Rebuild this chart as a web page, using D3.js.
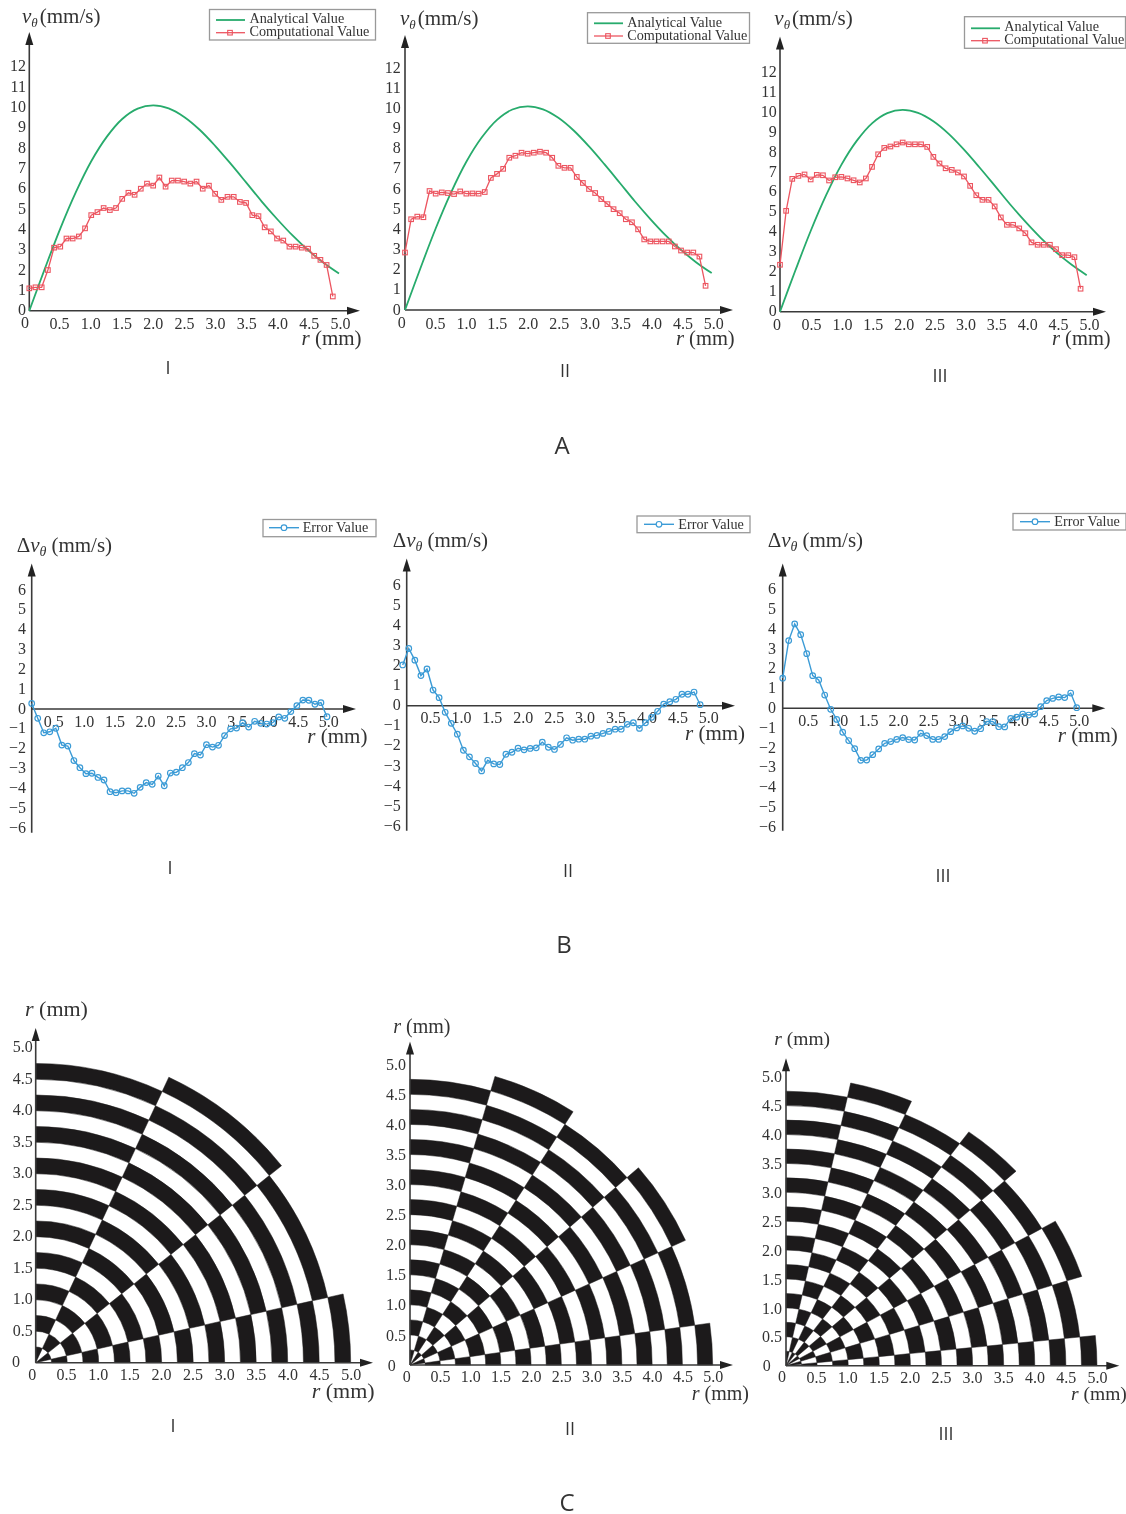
<!DOCTYPE html>
<html>
<head>
<meta charset="utf-8">
<script src="https://cdn.jsdelivr.net/npm/d3@7"></script>
<style>
  html, body { margin: 0; padding: 0; background: #fff; }
  svg { display: block; filter: blur(0.5px); }
  text { font-family: "Liberation Serif", serif; fill: #333; }
  .letter { font-family: "Open Sans", sans-serif; }
</style>
</head>
<body>
<div id="chart"></div>
<script>
// ---- data ----
var sampleR = [0,0.1,0.2,0.3,0.4,0.5,0.6,0.7,0.8,0.9,1,1.1,1.2,1.3,1.4,1.5,1.6,1.7,1.8,1.9,2,2.1,2.2,2.3,2.4,2.5,2.6,2.7,2.8,2.9,3,3.1,3.2,3.3,3.4,3.5,3.6,3.7,3.8,3.9,4,4.1,4.2,4.3,4.4,4.5,4.6,4.7,4.8,4.9];

var analyticR = [0,0.25,0.5,0.75,1,1.25,1.5,1.75,2,2.25,2.5,2.75,3,3.25,3.5,3.75,4,4.25,4.5,4.75,5];
var analyticV = [0,2.06,4.04,5.82,7.35,8.55,9.43,9.94,10.1,9.95,9.53,8.9,8.11,7.23,6.31,5.38,4.51,3.7,2.98,2.36,1.83];

var computedI = [1.1,1.15,1.15,2,3.1,3.15,3.55,3.55,3.65,4.05,4.7,4.85,5.05,4.95,5.05,5.5,5.8,5.7,6,6.25,6.15,6.55,6.1,6.4,6.4,6.35,6.25,6.35,6,6.15,5.75,5.45,5.6,5.6,5.35,5.3,4.7,4.65,4.1,3.9,3.55,3.45,3.15,3.15,3.1,3.05,2.7,2.5,2.25,0.7];
var computedII = [2.85,4.5,4.63,4.6,5.9,5.77,5.83,5.8,5.75,5.88,5.77,5.78,5.77,5.85,6.55,6.75,7,7.55,7.65,7.8,7.75,7.8,7.85,7.8,7.55,7.15,7.05,7.05,6.6,6.3,6,5.8,5.5,5.25,5,4.8,4.5,4.35,4,3.5,3.4,3.4,3.4,3.4,3.15,2.95,2.85,2.85,2.65,1.2];
var computedIII = [2.35,5.05,6.65,6.8,6.87,6.62,6.85,6.83,6.57,6.73,6.75,6.67,6.58,6.47,6.67,7.25,7.88,8.2,8.27,8.38,8.47,8.38,8.38,8.38,8.25,7.75,7.42,7.18,7.1,6.97,6.77,6.3,5.83,5.6,5.6,5.27,4.72,4.35,4.35,4.17,3.93,3.47,3.35,3.35,3.35,3.13,2.83,2.83,2.73,1.15];

var errorI = [0.28,-0.47,-1.2,-1.15,-0.97,-1.82,-1.87,-2.6,-2.96,-3.26,-3.24,-3.45,-3.58,-4.17,-4.22,-4.13,-4.13,-4.25,-3.95,-3.71,-3.8,-3.38,-3.87,-3.23,-3.19,-2.96,-2.7,-2.25,-2.32,-1.8,-1.92,-1.83,-1.34,-1,-0.96,-0.69,-0.91,-0.62,-0.72,-0.76,-0.69,-0.4,-0.47,-0.13,0.17,0.45,0.44,0.24,0.32,-0.39];
var errorII = [2.03,2.85,2.27,1.5,1.83,0.78,0.4,-0.33,-0.88,-1.42,-2.22,-2.55,-2.88,-3.25,-2.72,-2.9,-2.93,-2.42,-2.32,-2.12,-2.2,-2.13,-2.1,-1.82,-2.07,-2.18,-1.93,-1.6,-1.72,-1.67,-1.67,-1.52,-1.48,-1.38,-1.28,-1.17,-1.17,-0.93,-0.85,-1.13,-0.85,-0.58,-0.28,0.08,0.2,0.32,0.57,0.57,0.68,0.05];
var errorIII = [1.52,3.42,4.26,3.72,2.76,1.65,1.43,0.67,-0.05,-0.56,-1.21,-1.63,-2.04,-2.63,-2.61,-2.34,-2.05,-1.77,-1.68,-1.57,-1.48,-1.58,-1.6,-1.26,-1.38,-1.57,-1.57,-1.43,-1.18,-0.99,-0.89,-1.01,-1.16,-1.03,-0.67,-0.67,-0.93,-0.94,-0.51,-0.45,-0.29,-0.34,-0.29,0.08,0.39,0.5,0.57,0.54,0.77,0.03];

// checkerboard: ring edges in mm, sector edges in degrees from the x axis
var ringEdges = [0,0.25,0.5,0.75,1,1.25,1.5,1.75,2,2.25,2.5,2.75,3,3.25,3.5,3.75,4,4.25,4.5,4.75,5];
var sectorsI = [0,12.6,38.7,65,90];
var sectorsII = [0,8,24.5,41,57.4,73.7,90];
var sectorsIII = [0,6,18,30,42.3,54,66.2,78,90];

// tick labels
var rTicks = [0.5,1,1.5,2,2.5,3,3.5,4,4.5,5];
var speedTicks = [0,1,2,3,4,5,6,7,8,9,10,11,12];
var errorTicks = [-6,-5,-4,-3,-2,-1,0,1,2,3,4,5,6];

var legendAnalytical = "Analytical Value";
var legendComputational = "Computational Value";
var legendError = "Error Value";

var green = "#27ab6c", red = "#ec5560", blue = "#3b9bd6", axisColor = "#3a3a3a";

var w = 1126, h = 1514;
var svg = d3.select("#chart").append("svg").attr("width", w).attr("height", h);

// ---- helpers ----
function drawArrows(g, o) {
    // o.ax = y axis x, o.ay = x axis y
    g.append("path").attr("fill", "none").attr("stroke", axisColor).attr("stroke-width", 1.6)
        .attr("d", "M" + o.ax + "," + (o.bottom || o.ay) + "V" + (o.top + 6) + "M" + o.ax + "," + o.ay + "H" + (o.tip - 6));
    g.append("path").attr("fill", "#222")
        .attr("d", "M" + o.ax + "," + o.top + "l4,13h-8z");
    g.append("path").attr("fill", "#222")
        .attr("d", "M" + o.tip + "," + o.ay + "l-13,-4v8z");
}

function drawTicks(g, o, yScale, yValues, yFormat) {
    var labelX = d3.scaleLinear().domain([0.5, 5]).range([o.lab05, o.lab50]);
    var xAxis = d3.axisBottom(labelX).tickValues(rTicks).tickSize(0).tickPadding(0)
        .tickFormat(d3.format(".1f"));
    var xg = g.append("g").attr("transform", "translate(0," + (o.labY - 5.5) + ")").call(xAxis);
    var yAxis = d3.axisLeft(yScale).tickValues(yValues).tickSize(0).tickPadding(0).tickFormat(yFormat);
    var yg = g.append("g").attr("transform", "translate(" + o.labRight + "," + (o.labDy || 0) + ")").call(yAxis);
    [xg, yg].forEach(function(a) {
        a.select(".domain").remove();
        a.attr("font-family", null).attr("font-size", null);
        a.selectAll("text").style("font-size", "16px").attr("fill", null);
    });
    xg.selectAll("text").attr("dy", "0.72em").attr("y", 0);
}

function plainText(g, x, y, str, size, anchor) {
    return g.append("text").attr("x", x).attr("y", y).attr("text-anchor", anchor || "start")
        .style("font-size", size + "px").text(str);
}

function drawRLabel(g, x, y, size) {
    var t = g.append("text").attr("x", x).attr("y", y).style("font-size", size + "px");
    t.append("tspan").style("font-style", "italic").text("r");
    t.append("tspan").text(" (mm)");
}

function drawSpeedTitle(g, x, y, delta) {
    var t = g.append("text").attr("x", x).attr("y", y).style("font-size", "21px");
    if (delta) t.append("tspan").text("Δ");
    t.append("tspan").style("font-style", "italic").text("v");
    t.append("tspan").style("font-style", "italic").style("font-size", delta ? "14px" : "13px").attr("dy", 4).text("θ");
    t.append("tspan").attr("dy", -4).attr("dx", delta ? 5 : 2).text("(mm/s)");
}

function drawLegendBox(g, b) {
    g.append("rect").attr("x", b.x).attr("y", b.y).attr("width", b.w).attr("height", b.h)
        .attr("fill", "#fff").attr("stroke", "#999").attr("stroke-width", 1.3);
}

function square(g, cx, cy) {
    g.append("rect").attr("x", cx - 2.3).attr("y", cy - 2.3).attr("width", 4.6).attr("height", 4.6)
        .attr("fill", "none").attr("stroke", red).attr("stroke-width", 1.1);
}

// ---- A: analytical vs computational ----
var panelsA = [
    { data: computedI, ax: 29.3, x5: 339, ay: 310.7, y12: 66.7, top: 32, tip: 360,
      lab05: 59, lab50: 340, labY: 322.7, labRight: 26, lab0x: 25, titleX: 22, titleY: 23,
      rX: 301.5, rY: 345, rSize: 21, numeral: "I", numX: 168, numY: 374,
      box: { x: 209.5, y: 9.5, w: 166, h: 30.5 }, lineX: 216, lineY1: 20, textX: 249.5, textY1: 23, lineY2: 32.7, textY2: 36 },
    { data: computedII, ax: 405, x5: 711.7, ay: 310, y12: 68, top: 35, tip: 733,
      lab05: 435, lab50: 713.3, labY: 322.7, labRight: 400.7, lab0x: 401.7, titleX: 400, titleY: 25,
      rX: 676, rY: 345, rSize: 20.5, numeral: "II", numX: 565, numY: 376.5,
      box: { x: 587.5, y: 12.7, w: 162, h: 30.6 }, lineX: 594, lineY1: 23.3, textX: 627.3, textY1: 27, lineY2: 36, textY2: 39.5 },
    { data: computedIII, ax: 780, x5: 1086.7, ay: 311.7, y12: 72, top: 36.5, tip: 1106,
      lab05: 811, lab50: 1089, labY: 324, labRight: 776.7, lab0x: 777, titleX: 774.3, titleY: 25,
      rX: 1052, rY: 345, rSize: 20.5, numeral: "III", numX: 940, numY: 381.5,
      box: { x: 964.5, y: 16.7, w: 161, h: 31.6 }, lineX: 971, lineY1: 28.3, textX: 1004.3, textY1: 31, lineY2: 40.7, textY2: 43.5 }
];

panelsA.forEach(function(o) {
    var g = svg.append("g");
    var xScale = d3.scaleLinear().domain([0, 5]).range([o.ax, o.x5]);
    var yScale = d3.scaleLinear().domain([0, 12]).range([o.ay, o.y12]);

    drawArrows(g, o);
    o.labDy = -1;
    drawTicks(g, o, yScale, speedTicks, d3.format("d"));
    plainText(g, o.lab0x, o.labY + 5.5, "0", 16, "middle");
    drawSpeedTitle(g, o.titleX, o.titleY, false);
    drawRLabel(g, o.rX, o.rY, o.rSize);

    var analyticLine = d3.line()
        .x(function(d, i) { return xScale(analyticR[i]); })
        .y(function(d) { return yScale(d); })
        .curve(d3.curveCatmullRom);
    g.append("path").datum(analyticV).attr("fill", "none").attr("stroke", green)
        .attr("stroke-width", 1.8).attr("d", analyticLine);

    var computedLine = d3.line()
        .x(function(d, i) { return xScale(sampleR[i]); })
        .y(function(d) { return yScale(d); });
    g.append("path").datum(o.data).attr("fill", "none").attr("stroke", red)
        .attr("stroke-width", 1.3).attr("d", computedLine);

    g.selectAll("rect.pt").data(o.data).enter().append("rect").attr("class", "pt")
        .attr("x", function(d, i) { return xScale(sampleR[i]) - 2.3; })
        .attr("y", function(d) { return yScale(d) - 2.3; })
        .attr("width", 4.6).attr("height", 4.6)
        .attr("fill", "none").attr("stroke", red).attr("stroke-width", 1.1);

    // legend
    drawLegendBox(g, o.box);
    g.append("line").attr("x1", o.lineX).attr("x2", o.lineX + 29).attr("y1", o.lineY1).attr("y2", o.lineY1)
        .attr("stroke", green).attr("stroke-width", 1.8);
    g.append("line").attr("x1", o.lineX).attr("x2", o.lineX + 29).attr("y1", o.lineY2).attr("y2", o.lineY2)
        .attr("stroke", red).attr("stroke-width", 1.3);
    square(g, o.lineX + 14, o.lineY2);
    plainText(g, o.textX, o.textY1, legendAnalytical, 14.2);
    plainText(g, o.textX, o.textY2, legendComputational, 14.2);
    plainText(g, o.numX, o.numY, o.numeral, 18, "middle").attr("class", "letter");
});

// ---- B: error ----
var panelsB = [
    { data: errorI, r0: 31.7, x5: 333, ay: 709, y6: 590, top: 563.5, bottom: 832.7, tip: 356, ax: 31.7,
      lab05: 53.3, lab50: 328.3, labY: 720.7, labRight: 26, titleX: 16.7, titleY: 551.7,
      rX: 307.3, rY: 743.3, numeral: "I", numX: 170, numY: 873.5,
      box: { x: 263, y: 519.5, w: 113, h: 17.2 }, lineX: 269, lineY: 527.7, textX: 302.7, textY: 532 },
    { data: errorII, r0: 402.7, x5: 706.2, ay: 705.7, y6: 585.3, top: 558.5, bottom: 830.7, tip: 735, ax: 406.7,
      lab05: 430, lab50: 708.3, labY: 716.7, labRight: 400.7, titleX: 392.7, titleY: 547.3,
      rX: 685, rY: 740, numeral: "II", numX: 568, numY: 876.5,
      box: { x: 637, y: 516, w: 113, h: 16.7 }, lineX: 644, lineY: 524.3, textX: 678.3, textY: 528.6 },
    { data: errorIII, r0: 782.7, x5: 1082.7, ay: 708.3, y6: 589.5, top: 563.5, bottom: 830.7, tip: 1105.3, ax: 782.7,
      lab05: 807.7, lab50: 1078.7, labY: 720, labRight: 776, titleX: 767.7, titleY: 546.7,
      rX: 1057.7, rY: 741.7, numeral: "III", numX: 943, numY: 881.5,
      box: { x: 1013, y: 513.5, w: 113, h: 16.5 }, lineX: 1020, lineY: 521.7, textX: 1054.3, textY: 526 }
];

panelsB.forEach(function(o) {
    var g = svg.append("g");
    var xScale = d3.scaleLinear().domain([0, 5]).range([o.r0, o.x5]);
    var yScale = d3.scaleLinear().domain([0, 6]).range([o.ay, o.y6]);

    drawArrows(g, o);
    o.labDy = -1;
    drawTicks(g, o, yScale, errorTicks, d3.format("d"));
    drawSpeedTitle(g, o.titleX, o.titleY, true);
    drawRLabel(g, o.rX, o.rY, 21);

    var errorLine = d3.line()
        .x(function(d, i) { return xScale(sampleR[i]); })
        .y(function(d) { return yScale(d); });
    g.append("path").datum(o.data).attr("fill", "none").attr("stroke", blue)
        .attr("stroke-width", 1.4).attr("d", errorLine);
    g.selectAll("circle.pt").data(o.data).enter().append("circle").attr("class", "pt")
        .attr("cx", function(d, i) { return xScale(sampleR[i]); })
        .attr("cy", function(d) { return yScale(d); })
        .attr("r", 2.8)
        .attr("fill", "none").attr("stroke", blue).attr("stroke-width", 1.2);

    drawLegendBox(g, o.box);
    g.append("line").attr("x1", o.lineX).attr("x2", o.lineX + 30).attr("y1", o.lineY).attr("y2", o.lineY)
        .attr("stroke", blue).attr("stroke-width", 1.4);
    g.append("circle").attr("cx", o.lineX + 15).attr("cy", o.lineY).attr("r", 2.8)
        .attr("fill", "#fff").attr("stroke", blue).attr("stroke-width", 1.2);
    plainText(g, o.textX, o.textY, legendError, 14.2);
    plainText(g, o.numX, o.numY, o.numeral, 18, "middle").attr("class", "letter");
});

// ---- C: checkerboards ----
// radius = px per 5 mm along x, radiusY the same along y (panel III is squashed)
var panelsC = [
    { sectors: sectorsI, ax: 35.7, ay: 1362.7, radius: 315, radiusY: 315, top: 1028, tip: 373,
      lab05: 66, lab50: 350.7, labY: 1374, labRight: 32.7, lab0x: 32.3, zeroX: 16, zeroY: 1361.7, labDy: -1,
      titleX: 25, titleY: 1016, titleSize: 22, rX: 311.7, rY: 1398, rSize: 22, numeral: "I", numX: 173, numY: 1431.5 },
    { sectors: sectorsII, ax: 410, ay: 1365, radius: 302.7, radiusY: 300.7, top: 1041.5, tip: 733,
      lab05: 440, lab50: 712.7, labY: 1376, labRight: 406, lab0x: 406.7, zeroX: 391.7, zeroY: 1365, labDy: 0,
      titleX: 393.3, titleY: 1033.3, titleSize: 20, rX: 691.7, rY: 1400, rSize: 20, numeral: "II", numX: 570, numY: 1434.5 },
    { sectors: sectorsIII, ax: 786, ay: 1365.7, radius: 311, radiusY: 289, top: 1058.3, tip: 1119.3,
      lab05: 816, lab50: 1097, labY: 1376.7, labRight: 782, lab0x: 782, zeroX: 766.7, zeroY: 1365, labDy: 0,
      titleX: 774.3, titleY: 1045, titleSize: 19.5, rX: 1071, rY: 1400, rSize: 19.5, numeral: "III", numX: 946, numY: 1439.5 }
];

panelsC.forEach(function(o) {
    var g = svg.append("g");
    var radius = d3.scaleLinear().domain([0, 5]).range([0, o.radius]);
    // degrees from the x axis, turned into d3.arc angles (0 = up, clockwise)
    var angle = d3.scaleLinear().domain([0, 90]).range([Math.PI / 2, 0]);
    var yScale = d3.scaleLinear().domain([0, 5]).range([o.ay, o.ay - o.radiusY]);

    var cells = [];
    d3.range(o.sectors.length - 1).forEach(function(j) {
        d3.range(ringEdges.length - 1).forEach(function(k) {
            if ((j + k) % 2 === 1) {
                cells.push({ a0: o.sectors[j], a1: o.sectors[j + 1], r0: ringEdges[k], r1: ringEdges[k + 1] });
            }
        });
    });

    var arc = d3.arc()
        .innerRadius(function(d) { return radius(d.r0); })
        .outerRadius(function(d) { return radius(d.r1); })
        .startAngle(function(d) { return angle(d.a1); })
        .endAngle(function(d) { return angle(d.a0); });

    g.append("g").attr("transform", "translate(" + o.ax + "," + o.ay + ") scale(1," + (o.radiusY / o.radius) + ")")
        .selectAll("path").data(cells).enter().append("path")
        .attr("d", arc).attr("fill", "#1c1a1b").attr("stroke", "#1c1a1b").attr("stroke-width", 0.5);

    drawArrows(g, o);
    drawTicks(g, o, yScale, rTicks, d3.format(".1f"));
    plainText(g, o.lab0x, o.labY + 5.5, "0", 16, "middle");
    plainText(g, o.zeroX, o.zeroY + 5.5, "0", 16, "middle");
    drawRLabel(g, o.titleX, o.titleY, o.titleSize);
    drawRLabel(g, o.rX, o.rY, o.rSize);
    plainText(g, o.numX, o.numY, o.numeral, 18, "middle").attr("class", "letter");
});

// group letters
plainText(svg, 562, 453.5, "A", 24, "middle").attr("class", "letter");
plainText(svg, 564, 952.5, "B", 24, "middle").attr("class", "letter");
plainText(svg, 567, 1510.5, "C", 24, "middle").attr("class", "letter");
</script>
</body>
</html>
